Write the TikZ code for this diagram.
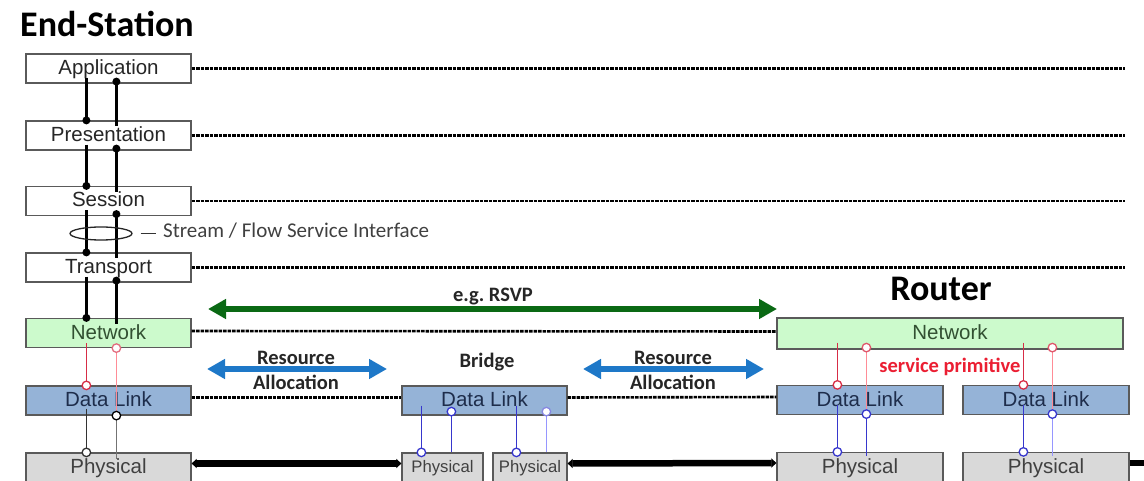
\documentclass[tikz,border=0pt]{standalone}
\usepackage{fontspec}
\setmainfont{Liberation Sans}
\newfontfamily\calfont{Carlito}
\usepackage{xcolor}
\usepackage{tikz}
\usetikzlibrary{shapes.geometric,arrows.meta}
\definecolor{NetGreen}{RGB}{204,250,204}
\definecolor{NetText}{RGB}{50,80,50}
\definecolor{LinkBlue}{RGB}{149,179,215}
\definecolor{LinkText}{RGB}{30,45,75}
\definecolor{PhyGrey}{RGB}{217,217,217}
\definecolor{BoxLine}{RGB}{90,90,90}
\definecolor{RsvpGreen}{RGB}{10,105,20}
\definecolor{ResBlue}{RGB}{30,120,200}
\definecolor{SigRed}{RGB}{215,45,70}
\definecolor{SigPink}{RGB}{255,140,150}
\definecolor{SigBlue}{RGB}{55,55,205}
\definecolor{SigLight}{RGB}{150,150,255}
\definecolor{SvcRed}{RGB}{235,30,50}

\begin{document}
\begin{tikzpicture}[
                x=1pt, y=-1pt,
                layerbox/.style={
                    draw=BoxLine,
                    line width=1.2pt,
                    minimum height=29pt,
                    inner sep=0pt,
                    text height=15pt,
                    text depth=3pt,
                    font=\fontsize{20.5}{22}\selectfont,
                    text=black!85
                },
                upperbox/.style={layerbox, fill=white, minimum width=165pt},
                netbox/.style={layerbox, fill=NetGreen, text=NetText},
                linkbox/.style={layerbox, fill=LinkBlue, text=LinkText, minimum width=166pt},
                phybox/.style={layerbox, fill=PhyGrey, text=black!75, minimum width=166pt},
                smallphy/.style={phybox, text height=12pt, font=\fontsize{16.7}{18}\selectfont},
                boldlabel/.style={inner sep=0pt, align=center, text=black!85,
                    font=\calfont\bfseries\fontsize{20.5}{25}\selectfont\frenchspacing},
                bigtitle/.style={inner sep=0pt, font=\calfont\bfseries\fontsize{36}{40}\selectfont},
                dashline/.style={line width=2.6pt, dash pattern=on 3.5pt off 1pt},
                phyline/.style={line width=6.5pt, {Triangle[length=5pt,width=9pt]}-{Triangle[length=5pt,width=9pt]}},
                bigarrow/.style={line width=6pt, {Triangle[length=18pt,width=19pt]}-{Triangle[length=18pt,width=19pt]}},
                sig/.style={line width=2.8pt, black},
                bdot/.style={circle, fill=black, inner sep=0pt, minimum size=8pt},
                odot/.style={circle, draw=#1, fill=white, line width=1.3pt, inner sep=0pt, minimum size=8.5pt},
                sigthin/.style={line width=1.7pt, draw=#1}
            ]
                \path[fill=white] (0,0) rectangle (1144,481);
                \useasboundingbox (0,0) rectangle (1144,481);

                \node[bigtitle, anchor=west] (es) at (20,24) {End-Station};
                \node[bigtitle] (router) at (941,289) {Router};

                \node[upperbox] (app) at (108.5,68.5) {Application};
                \node[upperbox] (pres) at (108.5,135.5) {Presentation};
                \node[upperbox] (sess) at (108.5,201) {Session};
                \node[upperbox] (trans) at (108.5,267.5) {Transport};
                \node[netbox, minimum width=165pt] (snet) at (108.5,333) {Network};
                \node[linkbox, minimum width=165pt] (sdl) at (108.5,400.5) {Data Link};
                \node[phybox, minimum width=165pt] (sphy) at (108.5,467.5) {Physical};

                \node[linkbox, minimum width=165pt] (bdl) at (484.5,400.5) {Data Link};
                \node[smallphy, minimum width=81pt] (bphy1) at (442.5,467.5) {Physical};
                \node[smallphy, minimum width=74pt] (bphy2) at (530,467.5) {Physical};

                \node[netbox, minimum width=346pt, minimum height=31pt] (rnet) at (950,333.5) {Network};
                \node[linkbox] (rdl1) at (860,400) {Data Link};
                \node[linkbox] (rdl2) at (1046,400) {Data Link};
                \node[phybox] (rphy1) at (860,467) {Physical};
                \node[phybox] (rphy2) at (1046,467) {Physical};

                \coordinate (farend) at (1125,0);
                \coordinate (pageedge) at (1144,0);
                \foreach \n in {app,pres,sess,trans}
                    \draw[dashline] (\n.east) -- (\n.east -| farend);
                \draw[dashline] ([yshift=2pt]snet.east) -- ([yshift=2pt]rnet.west);
                \draw[dashline] ([yshift=3pt]sdl.east) -- ([yshift=3pt]bdl.west);
                \draw[dashline] ([yshift=3pt]bdl.east) -- ([yshift=3pt]rdl1.west);

                \draw[phyline] ([yshift=4pt]sphy.east) -- ([yshift=4pt]bphy1.west);
                \draw[phyline] ([yshift=4pt]bphy2.east) -- ([yshift=4pt]rphy1.west);
                \draw[line width=6.5pt] ([yshift=4pt]rphy2.east) -- ([yshift=4pt]rphy2.east -| pageedge);

                \foreach \up/\dn in {app/pres, pres/sess, sess/trans, trans/snet}{
                    \draw[sig] ([xshift=61pt,yshift=6pt]\up.south west) -- ([xshift=61pt]\dn.north west) node[bdot]{};
                    \draw[sig] ([xshift=91pt,yshift=2pt]\up.south west) node[bdot]{} -- ([xshift=91pt,yshift=-6pt]\dn.north west);
                }
                \node[draw=black!85, ellipse, line width=1.3pt, minimum width=62pt, minimum height=13pt, inner sep=0pt] (sfi) at (101,233.5) {};
                \node[inner sep=0pt, anchor=west, text=black!75, font=\calfont\fontsize{21}{24}\selectfont] (sfitext) at (163,231) {Stream / Flow Service Interface};
                \draw[line width=1.2pt, black!80] ([xshift=8pt]sfi.east) -- ([xshift=23pt]sfi.east);

                \draw[sigthin=SigRed] ([xshift=61pt,yshift=5pt]snet.south west) -- ([xshift=61pt]sdl.north west) node[odot=SigRed]{};
                \draw[sigthin=SigPink] ([xshift=91pt]snet.south west) node[odot=SigRed!70]{} -- ([xshift=91pt]sdl.south west);
                \draw[sigthin=black!80] ([xshift=61pt,yshift=7pt]sdl.south west) -- ([xshift=61pt]sphy.north west) node[odot=black!80]{};
                \draw[sigthin=black!55] ([xshift=91pt]sdl.south west) node[odot=black]{} -- ([xshift=91pt,yshift=-7pt]sphy.north west);

                \draw[sigthin=SigBlue] ([xshift=20pt,yshift=10pt]bdl.south west) -- ([xshift=20pt]bphy1.north west) node[odot=SigBlue]{};
                \draw[sigthin=SigBlue] ([xshift=50pt,yshift=4pt]bdl.south west) node[odot=SigBlue]{} -- ([xshift=50pt]bphy1.north west);
                \draw[sigthin=SigBlue] ([xshift=115pt,yshift=10pt]bdl.south west) -- ([xshift=24pt]bphy2.north west) node[odot=SigBlue]{};
                \draw[sigthin=SigLight] ([xshift=145pt,yshift=4pt]bdl.south west) node[odot=SigBlue!60]{} -- ([xshift=54pt]bphy2.north west);

                \foreach \dl/\ph/\c in {rdl1/rphy1/SigBlue, rdl2/rphy2/SigLight}{
                    \draw[sigthin=SigRed] ([xshift=61pt,yshift=7pt]\dl.north west |- rnet.south) -- ([xshift=61pt]\dl.north west) node[odot=SigRed]{};
                    \draw[sigthin=SigPink] ([xshift=90pt,yshift=2pt]\dl.north west |- rnet.south) node[odot=SigRed!80]{} -- ([xshift=90pt]\dl.south west);
                    \draw[sigthin=SigBlue] ([xshift=61pt,yshift=10pt]\dl.south west) -- ([xshift=61pt]\ph.north west) node[odot=SigBlue]{};
                    \draw[sigthin=\c] ([xshift=90pt,yshift=1pt]\dl.south west) node[odot=SigBlue]{} -- ([xshift=90pt,yshift=-4pt]\ph.north west);
                }

                \coordinate (rsvpA) at (208,309);
                \coordinate (rsvpB) at (777,309);
                \coordinate (resA1) at (207,369);
                \coordinate (resA2) at (387,369);
                \coordinate (resB1) at (583,369);
                \coordinate (resB2) at (764,369);
                \draw[bigarrow, RsvpGreen] (rsvpA) -- (rsvpB);
                \draw[bigarrow, ResBlue] (resA1) -- (resA2);
                \draw[bigarrow, ResBlue] (resB1) -- (resB2);

                \node[boldlabel] (rsvp) at (493,297) {e.g. RSVP};
                \node[boldlabel] (resAtext) at (296,370.5) {Resource\\Allocation};
                \node[boldlabel] (resBtext) at (673,370.5) {Resource\\Allocation};
                \node[boldlabel] (bridge) at (487,362) {Bridge};
                \node[boldlabel, text=SvcRed] (svc) at (950,367) {service primitive};
            \end{tikzpicture}
\end{document}
